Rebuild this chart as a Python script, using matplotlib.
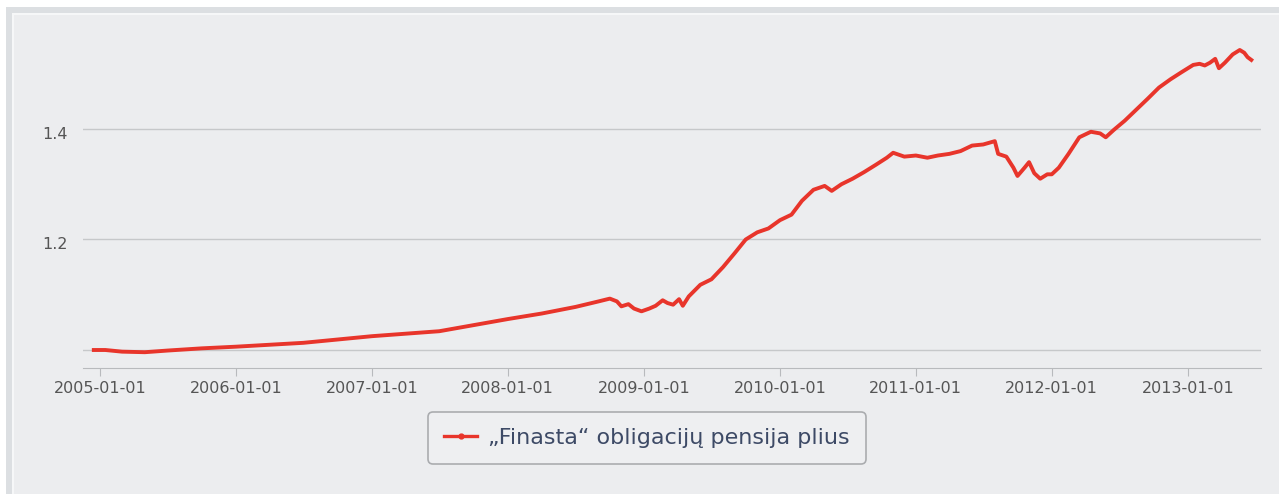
import matplotlib
matplotlib.use('Agg')
import matplotlib.pyplot as plt
import matplotlib.dates as mdates
import matplotlib.transforms as mtransforms
from matplotlib.patches import Rectangle
import pandas as pd

plt.rcParams['font.family'] = ['DejaVu Sans']

# unit value of the fund
dates = ['2004-12-15', '2005-01-15', '2005-03-01', '2005-05-01', '2005-07-01', '2005-10-01',
         '2006-01-01', '2006-07-01', '2007-01-01', '2007-07-01', '2008-01-01', '2008-04-01',
         '2008-07-01', '2008-09-01', '2008-10-01', '2008-10-20', '2008-11-01', '2008-11-20',
         '2008-12-05', '2008-12-25', '2009-01-15', '2009-02-01', '2009-02-20', '2009-03-05',
         '2009-03-20', '2009-04-05', '2009-04-15', '2009-05-01', '2009-06-01', '2009-07-01',
         '2009-08-01', '2009-09-01', '2009-10-01', '2009-11-01', '2009-12-01', '2010-01-01',
         '2010-02-01', '2010-03-01', '2010-04-01', '2010-05-01', '2010-05-20', '2010-06-15',
         '2010-07-15', '2010-08-15', '2010-09-15', '2010-10-15', '2010-11-01', '2010-12-01',
         '2011-01-01', '2011-02-01', '2011-03-01', '2011-04-01', '2011-05-01', '2011-06-01',
         '2011-07-01', '2011-08-01', '2011-08-10', '2011-09-01', '2011-09-20', '2011-10-01',
         '2011-10-20', '2011-11-01', '2011-11-15', '2011-12-01', '2011-12-20', '2012-01-01',
         '2012-01-20', '2012-02-15', '2012-03-15', '2012-04-15', '2012-05-10', '2012-05-25',
         '2012-06-15', '2012-07-15', '2012-08-15', '2012-09-15', '2012-10-15', '2012-11-15',
         '2012-12-15', '2013-01-15', '2013-02-01', '2013-02-15', '2013-03-01', '2013-03-15',
         '2013-03-25', '2013-04-10', '2013-05-01', '2013-05-20', '2013-06-01', '2013-06-10',
         '2013-06-20']
values = [1.000, 1.000, 0.997, 0.996, 0.999, 1.003,
          1.006, 1.013, 1.025, 1.034, 1.056, 1.066,
          1.078, 1.088, 1.093, 1.088, 1.079, 1.083,
          1.075, 1.070, 1.075, 1.080, 1.090, 1.085,
          1.082, 1.092, 1.080, 1.097, 1.118, 1.128,
          1.150, 1.175, 1.200, 1.213, 1.220, 1.235,
          1.245, 1.270, 1.290, 1.297, 1.288, 1.300,
          1.310, 1.322, 1.335, 1.348, 1.357, 1.350,
          1.352, 1.348, 1.352, 1.355, 1.360, 1.370,
          1.372, 1.378, 1.355, 1.350, 1.330, 1.315,
          1.330, 1.340, 1.320, 1.310, 1.318, 1.318,
          1.330, 1.355, 1.385, 1.395, 1.392, 1.385,
          1.398, 1.415, 1.435, 1.455, 1.475, 1.490,
          1.503, 1.516, 1.518, 1.515, 1.520, 1.527,
          1.510, 1.520, 1.535, 1.543, 1.538, 1.530,
          1.525]
series_name = '\u201eFinasta\u201c obligacij\u0173 pensija plius'
xtick_dates = ['2005-01-01', '2006-01-01', '2007-01-01', '2008-01-01', '2009-01-01',
               '2010-01-01', '2011-01-01', '2012-01-01', '2013-01-01']
yticks = [1.0, 1.2, 1.4]
ytick_labels = ['', '1.2', '1.4']

bg = '#ecedef'
fig = plt.figure(figsize=(12.79, 4.94), dpi=100, facecolor='white')
# outer panel with its grey frame
fig.patches.append(Rectangle((6 / 1279, 0), 1, (494 - 7) / 494, transform=fig.transFigure,
                             facecolor='#dcdfe2', edgecolor='none', zorder=-3))
fig.patches.append(Rectangle((12 / 1279, 0), 1, (494 - 13) / 494, transform=fig.transFigure,
                             facecolor='#f6f7f8', edgecolor='none', zorder=-2))
fig.patches.append(Rectangle((14 / 1279, 0), 1, (494 - 15) / 494, transform=fig.transFigure,
                             facecolor=bg, edgecolor='none', zorder=-1))

ax = fig.add_axes([83 / 1279, 1 - 368 / 494, (1261 - 83) / 1279, (368 - 15) / 494])
ax.set_facecolor(bg)
ax.patch.set_alpha(0)

x = pd.to_datetime(dates)
ax.plot(x, values, color='#e8352b', lw=2.8, marker='o', markersize=0,
        solid_joinstyle='round', label=series_name)

ax.set_ylim(1.0 - 18 / 552.5, 1.0 + 335 / 552.5)
ax.set_xlim(pd.Timestamp('2004-11-16'), pd.Timestamp('2013-07-16'))
ax.set_yticks(yticks)
ax.set_yticklabels(ytick_labels)
ax.set_xticks(pd.to_datetime(xtick_dates))
ax.xaxis.set_major_formatter(mdates.DateFormatter('%Y-%m-%d'))
ax.grid(axis='y', color='#c6c8ca', lw=1)
ax.set_axisbelow(True)
for s in ['top', 'right', 'left']:
    ax.spines[s].set_visible(False)
ax.spines['bottom'].set_color('#b8babd')
ax.tick_params(axis='y', length=0, labelsize=11.5, labelcolor='#555555', pad=11)
ax.tick_params(axis='x', length=6, color='#b8babd', labelsize=11.5, labelcolor='#555555', pad=3)
# y labels sit a little below their grid lines
shift = mtransforms.ScaledTranslation(0, -4 / 100, fig.dpi_scale_trans)
for lab in ax.get_yticklabels():
    lab.set_transform(lab.get_transform() + shift)

leg = fig.legend(loc='center', bbox_to_anchor=(647 / 1279, 1 - 438 / 494), fontsize=16,
                 frameon=True, fancybox=True, handlelength=1.5, handletextpad=0.5,
                 borderpad=0.7, borderaxespad=0)
leg.get_frame().set_facecolor('#eff0f2')
leg.get_frame().set_edgecolor('#9a9c9f')
leg.get_frame().set_linewidth(1.2)
for h in leg.legend_handles:
    h.set_markersize(3.5)
    h.set_linewidth(2.4)
for t in leg.get_texts():
    t.set_color('#3d4a66')

fig.savefig('out.png', dpi=100, facecolor=fig.get_facecolor())
